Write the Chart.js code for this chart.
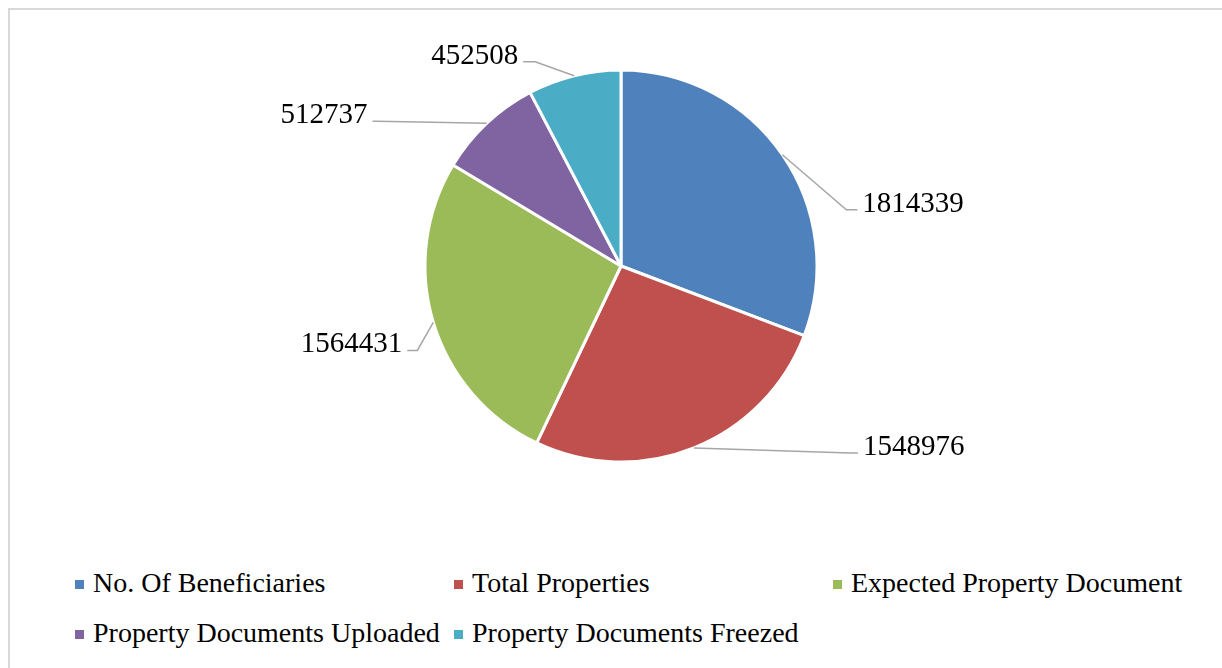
<!DOCTYPE html>
<html>
<head>
<meta charset="utf-8">
<script src="https://cdn.jsdelivr.net/npm/chart.js@4/dist/chart.umd.min.js"></script>
<style>
    html, body { margin: 0; padding: 0; background: #fff; overflow: hidden; }
    body { width: 1222px; height: 668px; position: relative; font-family: "Liberation Serif", "Times New Roman", serif; }
    .frame { position: absolute; left: 8px; top: 8px; width: 1300px; height: 700px; border: 2px solid #d9d9d9; box-sizing: border-box; }
    .chart-box { position: absolute; left: 0; top: 0; width: 1222px; height: 540px; }
    #legend { position: absolute; left: 75px; top: 558px; display: grid; grid-template-columns: 379px 379px 379px; row-gap: 0; }
    .item { display: flex; align-items: center; height: 50px; font-size: 28px; color: #000; white-space: nowrap; }
    .item .box { width: 9px; height: 9px; margin-right: 9px; flex: none; position: relative; top: 1px; }
</style>
</head>
<body>
<div class="frame"></div>
<div class="chart-box"><canvas id="pieChart"></canvas></div>
<div id="legend"></div>
<script>
const categories = ['No. Of Beneficiaries', 'Total Properties', 'Expected Property Document',
    'Property Documents Uploaded', 'Property Documents Freezed'];
const values = [1814339, 1548976, 1564431, 512737, 452508];
const colors = ['#4F81BD', '#C0504D', '#9BBB59', '#8064A2', '#4BACC6'];

// leader line layout for each slice: elbow offset from slice edge, horizontal run, side
const leaderLayout = [
    { dx: 64, dy: 55, run: 11, side: 1 },
    { dx: 156, dy: 5, run: 8, side: 1 },
    { dx: -16, dy: 28, run: 10, side: -1 },
    { dx: -110, dy: -2, run: 4, side: -1 },
    { dx: -39, dy: -14, run: 12, side: -1 }
];

const outsideLabels = {
    id: 'outsideLabels',
    afterDatasetsDraw(chart) {
        const ctx = chart.ctx;
        const meta = chart.getDatasetMeta(0);
        ctx.save();
        ctx.font = '29px "Liberation Serif", "Times New Roman", serif';
        ctx.fillStyle = '#000';
        ctx.textBaseline = 'alphabetic';
        meta.data.forEach((arc, i) => {
            const p = arc.getProps(['x', 'y', 'startAngle', 'endAngle', 'outerRadius'], true);
            const mid = (p.startAngle + p.endAngle) / 2;
            const ex = p.x + Math.cos(mid) * p.outerRadius;
            const ey = p.y + Math.sin(mid) * p.outerRadius;
            const l = leaderLayout[i];
            const bx = ex + l.dx;
            const by = ey + l.dy;
            const tx = bx + l.side * l.run;
            ctx.strokeStyle = '#a6a6a6';
            ctx.lineWidth = 1.5;
            ctx.beginPath();
            ctx.moveTo(ex, ey);
            ctx.lineTo(bx, by);
            ctx.lineTo(tx, by);
            ctx.stroke();
            ctx.textAlign = l.side > 0 ? 'left' : 'right';
            ctx.fillText(String(chart.data.datasets[0].data[i]), tx + l.side * 5, by + 2);
        });
        ctx.restore();
    }
};

function buildLegend(chart) {
    const box = document.getElementById('legend');
    chart.data.labels.forEach((label, i) => {
        const item = document.createElement('div');
        item.className = 'item';
        const sw = document.createElement('span');
        sw.className = 'box';
        sw.style.background = chart.data.datasets[0].backgroundColor[i];
        item.appendChild(sw);
        item.appendChild(document.createTextNode(label));
        box.appendChild(item);
    });
}

function createPieChart() {
    const ctx = document.getElementById('pieChart').getContext('2d');
    const chart = new Chart(ctx, {
        type: 'pie',
        data: {
            labels: categories,
            datasets: [{
                data: values,
                backgroundColor: colors,
                borderColor: '#ffffff',
                borderWidth: 3,
                radius: 196
            }]
        },
        options: {
            responsive: true,
            maintainAspectRatio: false,
            animation: false,
            layout: { padding: { left: 20, right: 0, top: 0, bottom: 8 } },
            plugins: {
                legend: { display: false },
                tooltip: { enabled: false }
            }
        },
        plugins: [outsideLabels]
    });
    buildLegend(chart);
}

document.addEventListener('DOMContentLoaded', createPieChart);
</script>
</body>
</html>
